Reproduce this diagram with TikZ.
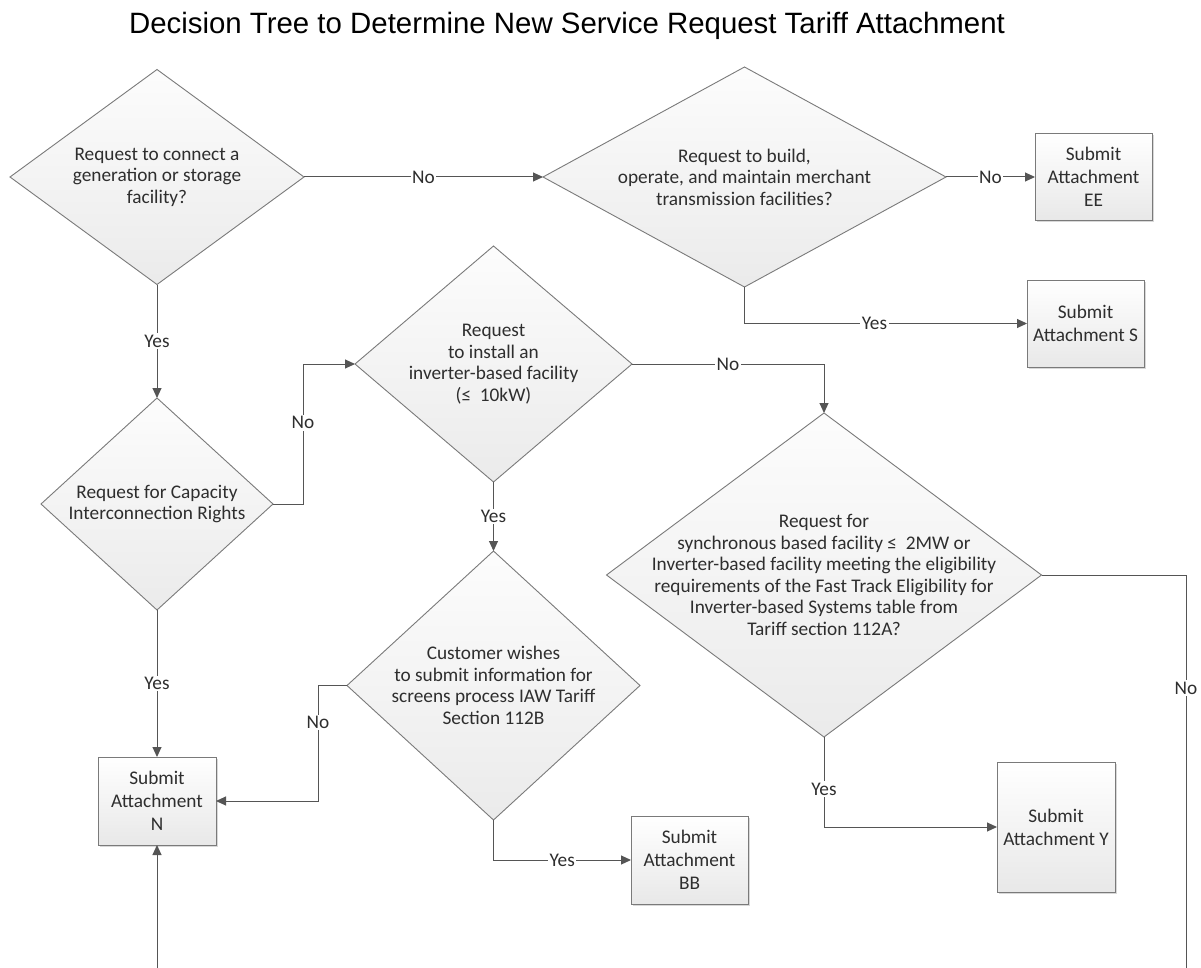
\documentclass[tikz,border=0pt]{standalone}
\usepackage{fontspec}
\setmainfont{Carlito}
\newfontfamily\titlefont{Liberation Sans}
\usetikzlibrary{shapes.geometric,arrows.meta,shadows}
\definecolor{linec}{HTML}{555555}
\definecolor{txtc}{HTML}{2E2E2E}
\definecolor{bordc}{HTML}{7A7A7A}
\tikzset{
  dia/.style={diamond, draw=bordc, line width=0.9pt, inner sep=0pt, outer sep=0pt,
    top color=white!99!black, bottom color=white!92!black},
  dtxt/.style={align=center, text=txtc, inner sep=0pt, font=\fontsize{19.3}{21.5}\selectfont},
  box/.style={rectangle, draw=bordc, line width=0.9pt, inner sep=0pt, outer sep=0pt,
    top color=white, bottom color=white!91!black, align=center, text=txtc,
    font=\fontsize{19.3}{23}\selectfont,
    drop shadow={shadow xshift=2pt, shadow yshift=-2pt, fill=black!30, opacity=0.5}},
  conn/.style={draw=linec, line width=1pt, -{Triangle[length=10pt,width=9pt]}},
  lbl/.style={fill=white, inner sep=1.5pt, text=txtc, font=\fontsize{19.3}{21}\selectfont}
}
\begin{document}
\begin{tikzpicture}[x=1pt,y=-1pt]
\useasboundingbox (0,0) rectangle (1201,968);
\fill[white] (0,0) rectangle (1201,968);

\node[font=\titlefont\fontsize{29.4}{32}\selectfont, text=black] (title) at (567,26)
  {Decision Tree to Determine New Service Request Tariff Attachment};

% diamonds
\node[dia, minimum width=294pt, minimum height=215pt] (d1) at (157,177) {};
\node[dtxt] (d1t) at (d1) {Request to connect a\\generation or storage\\facility?};

\node[dia, minimum width=403pt, minimum height=220pt] (d2) at (744.5,177) {};
\node[dtxt] (d2t) at (d2) {Request to build,\\operate, and maintain merchant\\transmission facilities?};

\node[dia, minimum width=277pt, minimum height=236pt] (d3) at (493.5,364) {};
\node[dtxt] (d3t) at (d3) {Request\\to install an\\inverter-based facility\\(≤\ \ 10kW)};

\node[dia, minimum width=232pt, minimum height=212pt] (d4) at (157,504) {};
\node[dtxt] (d4t) at (d4) {Request for Capacity\\Interconnection Rights};

\node[dia, minimum width=435pt, minimum height=324pt] (d5) at (824,575) {};
\node[dtxt] (d5t) at (d5) {Request for\\synchronous based facility ≤\ \ 2MW or\\Inverter-based facility meeting the eligibility\\requirements of the Fast Track Eligibility for\\Inverter-based Systems table from\\Tariff section 112A?};

\node[dia, minimum width=293pt, minimum height=269pt] (d6) at (493.5,685.5) {};
\node[dtxt] (d6t) at (d6) {Customer wishes\\to submit information for\\screens process IAW Tariff\\Section 112B};

% boxes
\node[box, minimum width=117pt, minimum height=87pt] (ee) at (1093.5,177) {Submit\\Attachment\\EE};
\node[box, minimum width=117pt, minimum height=87pt] (s) at (1085.5,323.5) {Submit\\Attachment S};
\node[box, minimum width=118pt, minimum height=88pt] (n) at (157,801) {Submit\\Attachment\\N};
\node[box, minimum width=117pt, minimum height=88pt] (bb) at (689.5,860) {Submit\\Attachment\\BB};
\node[box, minimum width=118pt, minimum height=130pt] (y) at (1056,827) {Submit\\Attachment Y};

% connectors
\draw[conn] (d1.east) -- node[lbl]{No} (d2.west);
\draw[conn] (d2.east) -- node[lbl]{No} (ee.west);
\draw[conn] (d2.south) |- node[lbl,pos=0.73]{Yes} (s.west);
\draw[conn] (d1.south) -- node[lbl]{Yes} (d4.north);
\draw[conn] (d4.east) -- ++(30,0) |- node[lbl,pos=0.29]{No} (d3.west);
\draw[conn] (d3.east) -| node[lbl,pos=0.25]{No} (d5.north);
\draw[conn] (d3.south) -- node[lbl]{Yes} (d6.north);
\draw[conn] (d4.south) -- node[lbl]{Yes} (n.north);
\draw[conn] (d6.west) -- ++(-29,0) |- node[lbl,pos=0.16]{No} (n.east);
\draw[conn] (d6.south) |- node[lbl,pos=0.75]{Yes} (bb.west);
\draw[conn] (d5.south) |- node[lbl,pos=0.29]{Yes} (y.west);
\begin{scope}
\clip (0,0) rectangle (1201,968);
\coordinate (loopr) at (1186,1010);
\coordinate (loopl) at (157,1010);
\draw[conn] (d5.east) -| node[lbl,pos=0.63]{No} (loopr) -- (loopl) -- (n.south);
\end{scope}
\end{tikzpicture}
\end{document}
